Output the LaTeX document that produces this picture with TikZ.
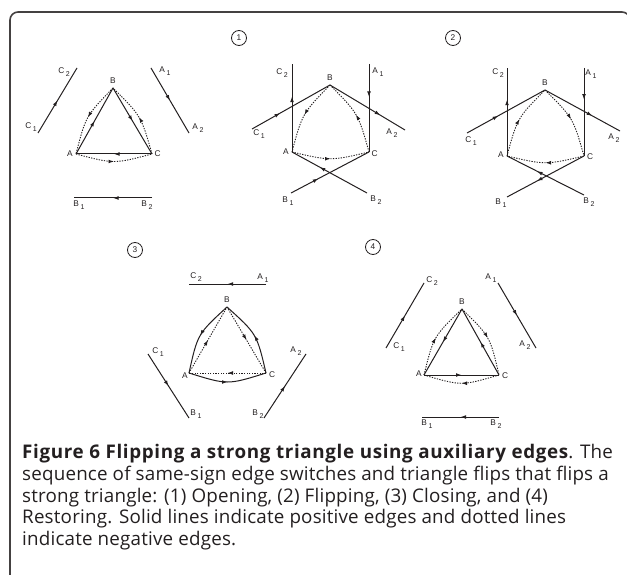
\documentclass[tikz,border=0pt]{standalone}
\usepackage{fontspec}
\setmainfont[LetterSpace=1,BoldFeatures={LetterSpace=3.5}]{Open Sans}
\newfontfamily\labfont{Liberation Sans}
\usetikzlibrary{arrows.meta,decorations.markings,calc}
\newcommand\lb[2]{{\labfont\fontsize{8.3}{8.3}\selectfont #1\kern1.6pt\raisebox{-2.6pt}{\fontsize{7}{7}\selectfont #2}}}
\newcommand\vx[1]{{\labfont\fontsize{8.3}{8.3}\selectfont #1}}
\definecolor{ink}{HTML}{231F20}
\tikzset{
  posedge/.style={line width=1pt,draw=ink},
  negedge/.style={line width=0.9pt,draw=ink,dash pattern=on 1.3pt off 1.3pt},
  ma/.style={postaction={decorate},decoration={markings,mark=at position #1 with {\arrow{Latex[length=5.5pt,width=3.8pt]}}}},
  ma/.default=0.5,
  lab/.style={inner sep=0pt,text=ink},
  num/.style={circle,draw=ink,line width=0.8pt,minimum size=15pt,inner sep=0pt,text=ink,font=\labfont\fontsize{8.3}{8.3}\selectfont},
  capline/.style={anchor=base west,inner sep=0pt,text=ink,font=\fontsize{18.8}{21}\selectfont},
}
\begin{document}
\begin{tikzpicture}[x=1pt,y=-1pt]
\useasboundingbox (0,0) rectangle (627,575);
\draw[line width=1.6pt,draw=ink!85,rounded corners=8pt] (10,12) rectangle (630,600);

% ---------------- panel 0 ----------------
\coordinate (A0) at (76,154); \coordinate (B0) at (113,88); \coordinate (C0) at (152,154);
\coordinate (C1e0) at (38,133); \coordinate (C2e0) at (77,68);
\coordinate (A1e0) at (151,68); \coordinate (A2e0) at (189,133);
\coordinate (B1e0) at (74,198); \coordinate (B2e0) at (152,198);
\draw[posedge,ma] (A0) -- (B0);
\draw[posedge,ma] (B0) -- (C0);
\draw[posedge,ma] (C0) -- (A0);
\draw[negedge,ma] (B0) .. controls ($(B0)!0.5!(A0)!10pt!-90:(A0)$) .. (A0);
\draw[negedge,ma] (C0) .. controls ($(C0)!0.5!(B0)!10pt!-90:(B0)$) .. (B0);
\draw[negedge,ma] (A0) .. controls ($(A0)!0.5!(C0)!10pt!-90:(C0)$) .. (C0);
\draw[posedge,ma] (C1e0) -- (C2e0);
\draw[posedge,ma] (A1e0) -- (A2e0);
\draw[posedge,ma] (B2e0) -- (B1e0);
\node[lab] (lA0) at (70,154) {\vx{A}};
\node[lab] (lB0) at (113,81) {\vx{B}};
\node[lab] (lC0) at (157.5,154) {\vx{C}};
\node[lab] (lC20) at (64,72) {\lb{C}{2}};
\node[lab] (lC10) at (31,127) {\lb{C}{1}};
\node[lab] (lA10) at (165,71) {\lb{A}{1}};
\node[lab] (lA20) at (198,128) {\lb{A}{2}};
\node[lab] (lB10) at (79,205) {\lb{B}{1}};
\node[lab] (lB20) at (147,205) {\lb{B}{2}};

% ---------------- panel 1 ----------------
\node[num] (n1) at (239,38) {1};
\coordinate (A1) at (292,152); \coordinate (B1) at (330,85); \coordinate (C1) at (369,152);
\coordinate (C2e1) at (292,64); \coordinate (A1e1) at (369,64);
\coordinate (C1e1) at (252,129); \coordinate (A2e1) at (405,130);
\coordinate (B1e1) at (291,193); \coordinate (B2e1) at (367,193);
\draw[negedge,ma] (B1) .. controls ($(B1)!0.5!(A1)!10pt!-90:(A1)$) .. (A1);
\draw[negedge,ma] (C1) .. controls ($(C1)!0.5!(B1)!10pt!-90:(B1)$) .. (B1);
\draw[negedge,ma] (A1) .. controls ($(A1)!0.5!(C1)!9pt!-90:(C1)$) .. (C1);
\draw[posedge,ma=0.63] (A1) -- (C2e1);
\draw[posedge,ma=0.375] (A1e1) -- (C1);
\draw[posedge,ma=0.36] (C1e1) -- (B1);
\draw[posedge,ma=0.67] (B1) -- (A2e1);
\draw[posedge,ma=0.63] (B2e1) -- (A1);
\draw[posedge,ma=0.35] (B1e1) -- (C1);
\node[lab] (lA1) at (286,152) {\vx{A}};
\node[lab] (lB1) at (330,78) {\vx{B}};
\node[lab] (lC1) at (374.5,154) {\vx{C}};
\node[lab] (lC21) at (282,73) {\lb{C}{2}};
\node[lab] (lA11) at (378,72) {\lb{A}{1}};
\node[lab] (lC11) at (259,134) {\lb{C}{1}};
\node[lab] (lA21) at (392,133) {\lb{A}{2}};
\node[lab] (lB11) at (288,201) {\lb{B}{1}};
\node[lab] (lB21) at (376,200) {\lb{B}{2}};

% ---------------- panel 2 ----------------
\node[num] (n2) at (453,38) {2};
\coordinate (A2) at (507,156); \coordinate (B2) at (545,90); \coordinate (C2) at (584,156);
\coordinate (C2e2) at (507,68); \coordinate (A1e2) at (584,68);
\coordinate (C1e2) at (467,133); \coordinate (A2e2) at (620,131);
\coordinate (B1e2) at (507,197); \coordinate (B2e2) at (584,195);
\draw[negedge,ma] (A2) .. controls ($(A2)!0.5!(B2)!10pt!90:(B2)$) .. (B2);
\draw[negedge,ma] (B2) .. controls ($(B2)!0.5!(C2)!10pt!90:(C2)$) .. (C2);
\draw[negedge,ma] (C2) .. controls ($(C2)!0.5!(A2)!9pt!90:(A2)$) .. (A2);
\draw[posedge,ma=0.64] (A2) -- (C2e2);
\draw[posedge,ma=0.36] (A1e2) -- (C2);
\draw[posedge,ma=0.4] (C1e2) -- (B2);
\draw[posedge,ma=0.63] (B2) -- (A2e2);
\draw[posedge,ma=0.61] (B2e2) -- (A2);
\draw[posedge,ma=0.61] (C2) -- (B1e2);
\node[lab] (lA2) at (501,155) {\vx{A}};
\node[lab] (lB2) at (545,83) {\vx{B}};
\node[lab] (lC2) at (590,157) {\vx{C}};
\node[lab] (lC22) at (498,73) {\lb{C}{2}};
\node[lab] (lA12) at (591,74) {\lb{A}{1}};
\node[lab] (lC12) at (471,141) {\lb{C}{1}};
\node[lab] (lA22) at (614,138) {\lb{A}{2}};
\node[lab] (lB12) at (501,203) {\lb{B}{1}};
\node[lab] (lB22) at (589,202) {\lb{B}{2}};

% ---------------- panel 3 ----------------
\node[num] (n3) at (135,250) {3};
\coordinate (A3) at (189,373); \coordinate (B3) at (227,307); \coordinate (C3) at (266,373);
\coordinate (C2e3) at (189,284); \coordinate (A1e3) at (266,284);
\coordinate (C1e3) at (148,354); \coordinate (B1e3) at (189,418);
\coordinate (B2e3) at (264,418); \coordinate (A2e3) at (306,354);
\draw[posedge,ma] (B3) .. controls ($(B3)!0.5!(A3)!12pt!-90:(A3)$) .. (A3);
\draw[posedge,ma] (C3) .. controls ($(C3)!0.5!(B3)!12pt!-90:(B3)$) .. (B3);
\draw[posedge,ma] (A3) .. controls ($(A3)!0.5!(C3)!12pt!-90:(C3)$) .. (C3);
\draw[negedge,ma] (A3) -- (B3);
\draw[negedge,ma] (B3) -- (C3);
\draw[negedge,ma] (C3) -- (A3);
\draw[posedge,ma] (A1e3) -- (C2e3);
\draw[posedge,ma] (C1e3) -- (B1e3);
\draw[posedge,ma] (B2e3) -- (A2e3);
\node[lab] (lA3) at (185,376) {\vx{A}};
\node[lab] (lB3) at (227,300) {\vx{B}};
\node[lab] (lC3) at (272,375) {\vx{C}};
\node[lab] (lC23) at (196,277) {\lb{C}{2}};
\node[lab] (lA13) at (263,278) {\lb{A}{1}};
\node[lab] (lC13) at (158,352) {\lb{C}{1}};
\node[lab] (lA23) at (296,351) {\lb{A}{2}};
\node[lab] (lB13) at (196,414) {\lb{B}{1}};
\node[lab] (lB23) at (258,414) {\lb{B}{2}};

% ---------------- panel 4 ----------------
\node[num] (n4) at (373,247) {4};
\coordinate (A4) at (424,375); \coordinate (B4) at (462,309); \coordinate (C4) at (499,375);
\coordinate (C1e4) at (386,348); \coordinate (C2e4) at (424,283);
\coordinate (A1e4) at (498,283); \coordinate (A2e4) at (536,348);
\coordinate (B1e4) at (422,417); \coordinate (B2e4) at (499,417);
\draw[posedge,ma] (B4) -- (A4);
\draw[posedge,ma] (C4) -- (B4);
\draw[posedge,ma] (A4) -- (C4);
\draw[negedge,ma] (A4) .. controls ($(A4)!0.5!(B4)!11pt!90:(B4)$) .. (B4);
\draw[negedge,ma] (B4) .. controls ($(B4)!0.5!(C4)!11pt!90:(C4)$) .. (C4);
\draw[negedge,ma] (C4) .. controls ($(C4)!0.5!(A4)!11pt!90:(A4)$) .. (A4);
\draw[posedge,ma] (C1e4) -- (C2e4);
\draw[posedge,ma] (A1e4) -- (A2e4);
\draw[posedge,ma] (B2e4) -- (B1e4);
\node[lab] (lA4) at (419,374) {\vx{A}};
\node[lab] (lB4) at (462,302) {\vx{B}};
\node[lab] (lC4) at (505,376) {\vx{C}};
\node[lab] (lC24) at (432,281) {\lb{C}{2}};
\node[lab] (lA14) at (491,278) {\lb{A}{1}};
\node[lab] (lC14) at (399,347) {\lb{C}{1}};
\node[lab] (lA24) at (525,345) {\lb{A}{2}};
\node[lab] (lB14) at (427,424) {\lb{B}{1}};
\node[lab] (lB24) at (496,424) {\lb{B}{2}};

% ---------------- caption ----------------
\node[capline] (cap1) at (22,458) {\textbf{Figure 6 Flipping a strong triangle using auxiliary edges}. The};
\node[capline] (cap2) at (22,480) {sequence of same-sign edge switches and triangle flips that flips a};
\node[capline] (cap3) at (22,502) {strong triangle: (1) Opening, (2) Flipping, (3) Closing, and (4)};
\node[capline] (cap4) at (22,523.5) {Restoring. Solid lines indicate positive edges and dotted lines};
\node[capline] (cap5) at (22,545) {indicate negative edges.};
\end{tikzpicture}
\end{document}
